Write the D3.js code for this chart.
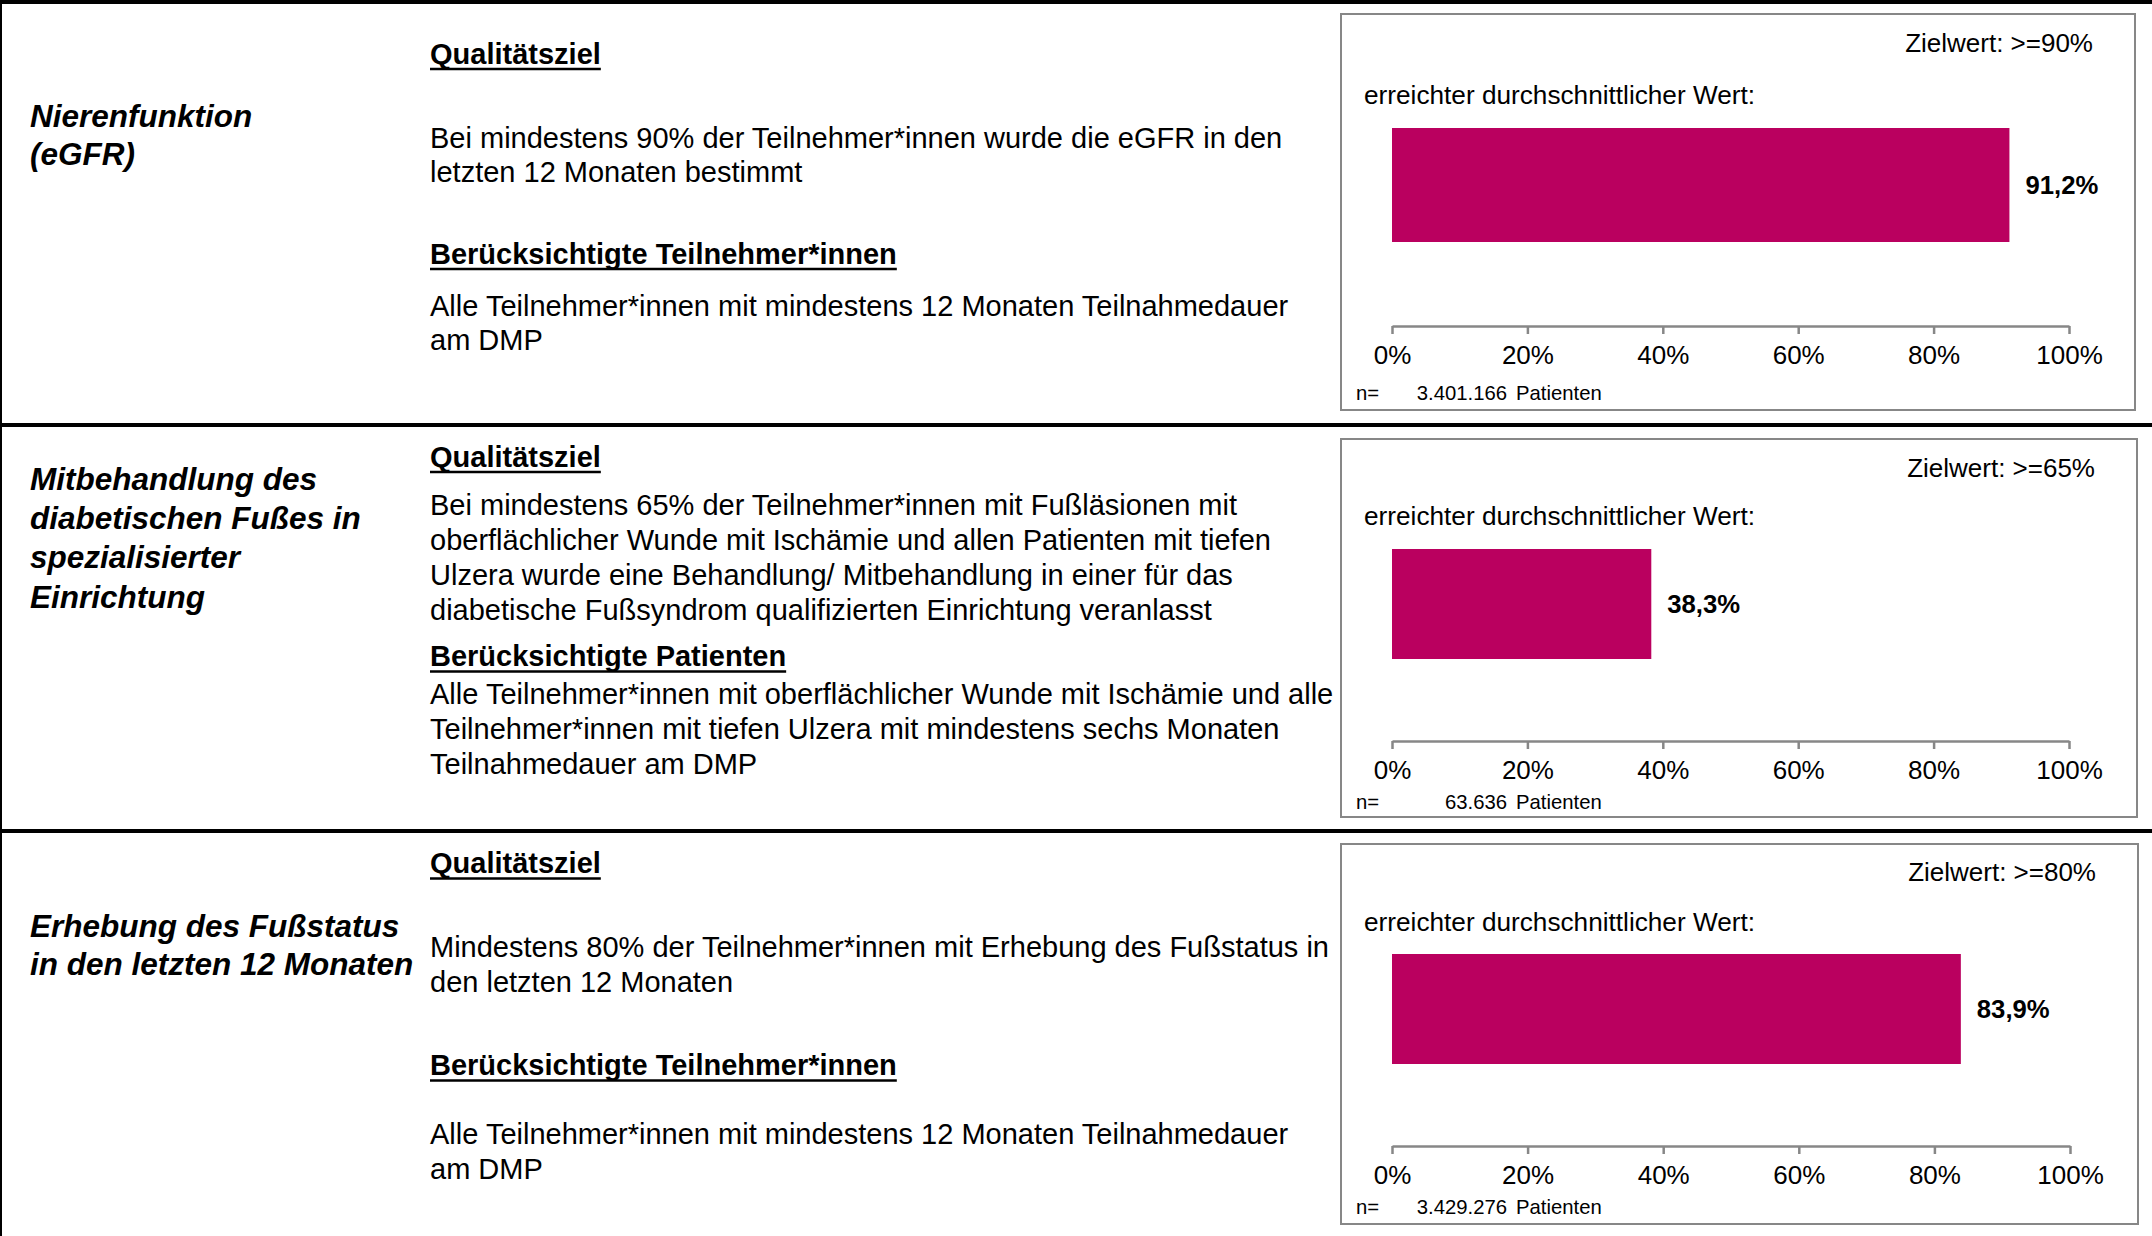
<!DOCTYPE html>
<html>
<head>
<meta charset="utf-8">
<script src="https://cdn.jsdelivr.net/npm/d3@7"></script>
<style>
  html, body { margin: 0; padding: 0; background: #fff; }
  svg { display: block; font-family: "Liberation Sans", Arial, sans-serif; }
</style>
</head>
<body>
<svg id="chart" width="2152" height="1236"></svg>
<script>
// ---------- DATA ----------
const indicatorLabels = [
  ["Nierenfunktion", "(eGFR)"],
  ["Mitbehandlung des", "diabetischen Fußes in", "spezialisierter", "Einrichtung"],
  ["Erhebung des Fußstatus", "in den letzten 12 Monaten"]
];
const goalHeadings = ["Qualitätsziel", "Qualitätsziel", "Qualitätsziel"];
const goalTexts = [
  ["Bei mindestens 90% der Teilnehmer*innen wurde die eGFR in den", "letzten 12 Monaten bestimmt"],
  ["Bei mindestens 65% der Teilnehmer*innen mit Fußläsionen mit",
   "oberflächlicher Wunde mit Ischämie und allen Patienten mit tiefen",
   "Ulzera wurde eine Behandlung/ Mitbehandlung in einer für das",
   "diabetische Fußsyndrom qualifizierten Einrichtung veranlasst"],
  ["Mindestens 80% der Teilnehmer*innen mit Erhebung des Fußstatus in", "den letzten 12 Monaten"]
];
const populationHeadings = ["Berücksichtigte Teilnehmer*innen", "Berücksichtigte Patienten", "Berücksichtigte Teilnehmer*innen"];
const populationTexts = [
  ["Alle Teilnehmer*innen mit mindestens 12 Monaten Teilnahmedauer", "am DMP"],
  ["Alle Teilnehmer*innen mit oberflächlicher Wunde mit Ischämie und alle",
   "Teilnehmer*innen mit tiefen Ulzera mit mindestens sechs Monaten",
   "Teilnahmedauer am DMP"],
  ["Alle Teilnehmer*innen mit mindestens 12 Monaten Teilnahmedauer", "am DMP"]
];
const targetValues = [90, 65, 80];
const achievedValues = [91.2, 38.3, 83.9];
const patientCounts = ["3.401.166", "63.636", "3.429.276"];
const axisTicks = [0, 20, 40, 60, 80, 100];
const achievedLabel = "erreichter durchschnittlicher Wert:";
const targetPrefix = "Zielwert: >=";
const nLabel = "n=";
const patientsWord = "Patienten";

// ---------- LAYOUT ----------
const W = 2152, H = 1236;
const FONT = '"Liberation Sans", Arial, sans-serif';
const BAR_COLOR = "#BA005F";
const GRAY = "#878787";
const BODY = 29;
const separators = [2, 425, 831];
const labelBase = [127, 490, 936.5];
const labelStep = [38.3, 39.2, 38.6];
const goalHeadY = [63.5, 466.5, 873];
const goalTextY = [147.5, 514.5, 956.5];
const popHeadY = [263.5, 666, 1075];
const popTextY = [315.5, 703.5, 1143.5];
const lineStep = [34.3, 35.2, 35.8];
const boxes = [
  {x: 1341, y: 14, w: 794, h: 396},
  {x: 1341, y: 439, w: 796, h: 378},
  {x: 1341, y: 844, w: 797, h: 380}
];
const zielY = [52, 477, 881];
const achievedY = [104, 525, 931];
const barTop = [128, 549, 954];
const barH = [114, 110, 110];
const axisY = [326, 741, 1146];
const nY = [400, 808.5, 1214];
const xRange = [[1392, 2069], [1392, 2069], [1392, 2070]];

const svg = d3.select("#chart");
svg.append("rect").attr("width", W).attr("height", H).attr("fill", "#fff");

// frame lines
svg.append("line").attr("x1", 1).attr("x2", 1).attr("y1", 0).attr("y2", H)
  .attr("stroke", "#000").attr("stroke-width", 2);
separators.forEach(y => {
  svg.append("line").attr("x1", 0).attr("x2", W).attr("y1", y).attr("y2", y)
    .attr("stroke", "#000").attr("stroke-width", 4);
});

function underlinedHeading(g, txt, x, y) {
  const t = g.append("text").attr("x", x).attr("y", y)
    .attr("font-size", BODY).attr("font-weight", "bold").attr("fill", "#000").text(txt);
  const len = t.node().getComputedTextLength();
  g.append("line").attr("x1", x).attr("x2", x + len)
    .attr("y1", y + 5.5).attr("y2", y + 5.5)
    .attr("stroke", "#000").attr("stroke-width", 2.5);
}

function textLines(g, lines, x, y, step, opts) {
  lines.forEach((ln, i) => {
    const t = g.append("text").attr("x", x).attr("y", y + i * step)
      .attr("fill", "#000").text(ln);
    Object.entries(opts).forEach(([k, v]) => t.attr(k, v));
  });
}

indicatorLabels.forEach((lab, i) => {
  const g = svg.append("g");
  textLines(g, lab, 30, labelBase[i], labelStep[i],
    {"font-size": 31.5, "font-weight": "bold", "font-style": "italic"});
  underlinedHeading(g, goalHeadings[i], 430, goalHeadY[i]);
  textLines(g, goalTexts[i], 430, goalTextY[i], lineStep[i], {"font-size": BODY});
  underlinedHeading(g, populationHeadings[i], 430, popHeadY[i]);
  textLines(g, populationTexts[i], 430, popTextY[i], lineStep[i], {"font-size": BODY});

  // chart box
  const b = boxes[i];
  g.append("rect").attr("x", b.x).attr("y", b.y).attr("width", b.w).attr("height", b.h)
    .attr("fill", "#fff").attr("stroke", GRAY).attr("stroke-width", 2);

  const x = d3.scaleLinear().domain([0, 100]).range(xRange[i]);

  g.append("text").attr("x", b.x + b.w - 42).attr("y", zielY[i])
    .attr("text-anchor", "end").attr("font-size", 26).attr("fill", "#000")
    .text(targetPrefix + targetValues[i] + "%");
  g.append("text").attr("x", 1364).attr("y", achievedY[i])
    .attr("font-size", 26.2).attr("fill", "#000").text(achievedLabel);

  // bar
  g.append("rect").attr("x", x(0)).attr("y", barTop[i])
    .attr("width", x(achievedValues[i]) - x(0)).attr("height", barH[i])
    .attr("fill", BAR_COLOR);
  g.append("text").attr("x", x(achievedValues[i]) + 16)
    .attr("y", barTop[i] + barH[i] / 2 + 9)
    .attr("font-size", 25.7).attr("font-weight", "bold").attr("fill", "#000")
    .text(achievedValues[i].toFixed(1).replace(".", ",") + "%");

  // axis
  const axis = d3.axisBottom(x).tickValues(axisTicks)
    .tickFormat(d => d + "%").tickSizeInner(8).tickSizeOuter(0).tickPadding(12);
  const ag = g.append("g").attr("transform", `translate(0,${axisY[i]})`).call(axis);
  ag.select(".domain").attr("stroke", GRAY).attr("stroke-width", 2.5);
  ag.selectAll(".tick line").attr("stroke", GRAY).attr("stroke-width", 2.5);
  ag.selectAll(".tick text").attr("fill", "#000")
    .style("font-size", "26px").style("font-family", FONT);

  // n = patients
  g.append("text").attr("x", 1356).attr("y", nY[i]).attr("font-size", 20.3)
    .attr("fill", "#000").text(nLabel);
  g.append("text").attr("x", 1507).attr("y", nY[i]).attr("font-size", 20.3)
    .attr("text-anchor", "end").attr("fill", "#000").text(patientCounts[i]);
  g.append("text").attr("x", 1516).attr("y", nY[i]).attr("font-size", 20.3)
    .attr("fill", "#000").text(patientsWord);
});
</script>
</body>
</html>
